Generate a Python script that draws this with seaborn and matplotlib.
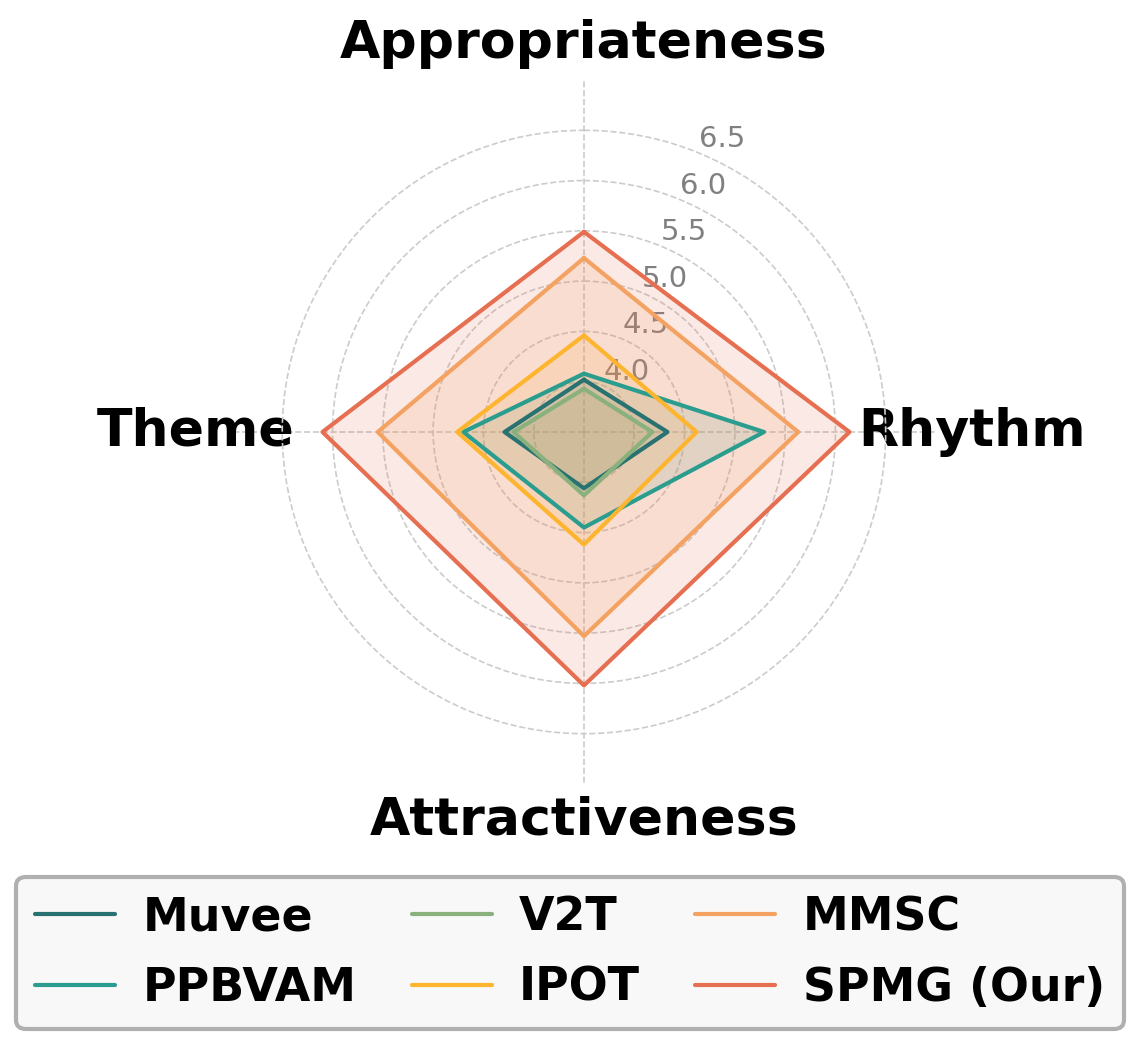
import numpy as np
import pandas as pd
import matplotlib
matplotlib.use("Agg")
import matplotlib.pyplot as plt
import seaborn as sns

# Data
categories = ["Appropriateness", "Rhythm", "Attractiveness", "Theme"]
methods = ["Muvee", "PPBVAM", "V2T", "IPOT", "MMSC", "SPMG (Our)"]
muvee = [4.02, 4.33, 4.06, 4.29]
ppbvam = [4.08, 5.29, 4.45, 4.70]
v2t = [3.93, 4.18, 4.13, 4.20]
ipot = [4.46, 4.62, 4.62, 4.76]
mmsc = [5.23, 5.63, 5.53, 5.55]
spmg = [5.49, 6.14, 6.02, 6.10]
r_ticks = [4.0, 4.5, 5.0, 5.5, 6.0, 6.5]

colors = ["#287271", "#2a9d8f", "#8ab17d", "#fdb52f", "#f4a261", "#e76f51"]

sns.set_style("white")
plt.rcParams["font.family"] = ["DejaVu Sans"]
plt.rcParams["text.color"] = "black"
plt.rcParams["xtick.color"] = "black"

# long-form table for seaborn (closing point at 2*pi so nothing gets merged)
angles = np.linspace(0, 2 * np.pi, len(categories), endpoint=False)
closed_ang = list(angles) + [2 * np.pi]
rows = []
for name, vals in zip(methods, [muvee, ppbvam, v2t, ipot, mmsc, spmg]):
    closed = list(vals) + [vals[0]]
    for a, v in zip(closed_ang, closed):
        rows.append({"method": name, "angle": a, "score": v})
df = pd.DataFrame(rows)

fig = plt.figure(figsize=(11.41, 10.48), dpi=100)
ax = fig.add_axes([0.2033, 0.2519, 0.617, 0.6718], projection="polar")
ax.set_theta_offset(np.pi / 2)
ax.set_theta_direction(-1)

for name, col in zip(methods, colors):
    sub = df[df["method"] == name]
    sns.lineplot(data=sub, x="angle", y="score", sort=False, estimator=None,
                 color=col, linewidth=3, ax=ax, label=name)
    ax.fill(sub["angle"], sub["score"], color=col, alpha=0.15)

ax.set_ylim(3.5, 7.0)
ax.set_yticks(r_ticks)
ax.set_yticklabels([f"{t:.1f}" for t in r_ticks], fontsize=21, color="gray")
ax.set_rlabel_position(22.5)
ax.set_thetagrids(np.degrees(angles), categories, fontsize=37.5,
                  fontweight="bold", color="black")
ax.tick_params(axis="x", pad=15.5)
ax.grid(True, color="#cccccc", linestyle="--", linewidth=1.2)
ax.spines["polar"].set_visible(False)
ax.set_xlabel("")
ax.set_ylabel("")
ax.get_legend().remove()

handles, labels = ax.get_legend_handles_labels()
leg = fig.legend(handles, labels, loc="center", ncol=3,
                 bbox_to_anchor=(570 / 1141, 1 - 953 / 1048),
                 prop={"size": 33, "weight": "bold"}, handlelength=1.75,
                 handletextpad=0.6, columnspacing=1.2, labelspacing=0.55,
                 frameon=True, fancybox=True)
for t in leg.get_texts():
    t.set_color("black")
frame = leg.get_frame()
frame.set_facecolor("#f8f8f8")
frame.set_alpha(1)
frame.set_edgecolor("#b0b0b0")
frame.set_linewidth(3)

fig.savefig("out.png", dpi=100)
